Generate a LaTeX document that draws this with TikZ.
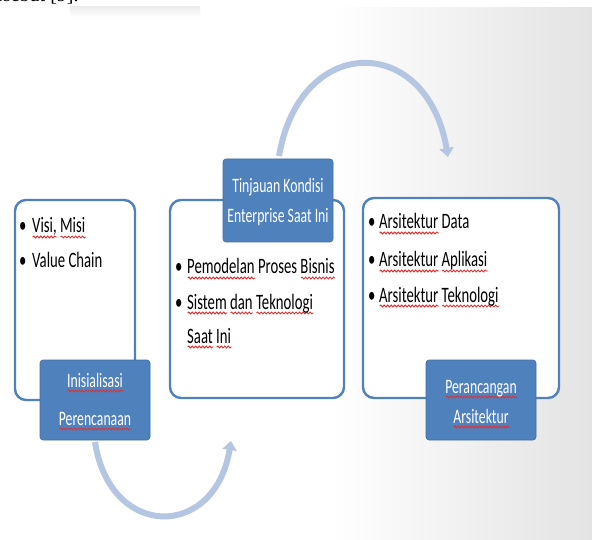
\documentclass[tikz,border=0pt]{standalone}
\usepackage{fontspec}
\setmainfont{Carlito}[FakeStretch=0.67]
\newfontfamily\serifdoc{Liberation Serif}
\usetikzlibrary{arrows.meta,decorations.pathmorphing}
\definecolor{obl}{HTML}{4F81BD}
\definecolor{arrbl}{HTML}{B4C6E2}
\definecolor{sqred}{HTML}{E03030}
\newsavebox\sqbox
\newcommand\sq[1]{\sbox\sqbox{#1}\leavevmode\rlap{\raisebox{-4pt}{\tikz[baseline=0pt]\draw[sqred, line width=0.9pt, decorate, decoration={snake, amplitude=0.9pt, segment length=3.5pt}] (0pt,0pt) -- (\wd\sqbox,0pt);}}\usebox\sqbox}
\tikzset{
  panel/.style={draw=obl, line width=2.4pt, rounded corners=11pt, fill=white},
  tag/.style={fill=obl, draw=obl!85!black, line width=0.6pt, rounded corners=3pt},
  txt/.style={anchor=base west, inner sep=0pt, font=\fontsize{22}{26}\selectfont},
  wtxt/.style={anchor=base, inner sep=0pt, text=white, font=\fontsize{20.5}{24}\selectfont},
  flow/.style={draw=arrbl, line width=6pt, -{Triangle[length=9pt,width=14pt]}},
}
\begin{document}
\begin{tikzpicture}[x=1pt,y=-1pt]
\useasboundingbox (0,0) rectangle (592,540);
% background slide gradient
\shade[left color=white, right color=black!11] (330,8) rectangle (592,540);
\fill[white] (0,8) rectangle (330,540);
% top shadow
\shade[top color=black!7, bottom color=white] (70,7) rectangle (200,17);
% cut-off document text
\begin{scope}
\clip (0,0) rectangle (300,8);
\node[anchor=base west, inner sep=0pt, font=\serifdoc\fontsize{20}{24}\selectfont] (doc) at (-6,2) {esebut [9].};
\end{scope}
% panels
\draw[panel] (15,200) rectangle (135,400);
\draw[panel] (170,200) rectangle (344,398);
\draw[panel] (363,198) rectangle (559,398);
% tags
\node[tag, minimum width=110pt, minimum height=80pt] (t1) at (95,400) {};
\node[tag, minimum width=110pt, minimum height=83pt] (t2) at (278,200.5) {};
\node[tag, minimum width=110pt, minimum height=80pt] (t3) at (481,400) {};
\node[wtxt] (t1a) at (95,387) {\sq{Inisialisasi}};
\node[wtxt] (t1b) at (95,425) {\sq{Perencanaan}};
\node[wtxt] (t2a) at (278,193) {Tinjauan Kondisi};
\node[wtxt] (t2b) at (278,223) {Enterprise Saat Ini};
\node[wtxt] (t3a) at (481,393) {\sq{Perancangan}};
\node[wtxt] (t3b) at (481,423) {\sq{Arsitektur}};
% bullets box 1
\node[txt] (b1a) at (19,233) {•};
\node[txt] (b1at) at (32,233) {\sq{Visi,} \sq{Misi}};
\node[txt] (b1b) at (19,268) {•};
\node[txt] (b1bt) at (32,268) {Value Chain};
% bullets box 2
\node[txt] (b2a) at (175,274) {•};
\node[txt] (b2at) at (187,274) {\sq{Pemodelan} Proses \sq{Bisnis}};
\node[txt] (b2b) at (175,309) {•};
\node[txt] (b2bt) at (187,309) {\sq{Sistem} \sq{dan} \sq{Teknologi}};
\node[txt] (b2ct) at (187,343) {\sq{Saat} \sq{Ini}};
% bullets box 3
\node[txt] (b3a) at (368,229) {•};
\node[txt] (b3at) at (379,229) {\sq{Arsitektur} Data};
\node[txt] (b3b) at (368,267) {•};
\node[txt] (b3bt) at (379,267) {\sq{Arsitektur} \sq{Aplikasi}};
\node[txt] (b3c) at (368,302) {•};
\node[txt] (b3ct) at (379,302) {\sq{Arsitektur} \sq{Teknologi}};
% arrows
\coordinate (a1s) at (95,442);
\coordinate (a1e) at (231,441);
\coordinate (a2s) at (279,156);
\coordinate (a2e) at (448,157);
\draw[flow] (a1s) .. controls (110,540) and (215,540) .. (a1e);
\draw[flow] (a2s) .. controls (300,33) and (427,33) .. (a2e);
\end{tikzpicture}
\end{document}
